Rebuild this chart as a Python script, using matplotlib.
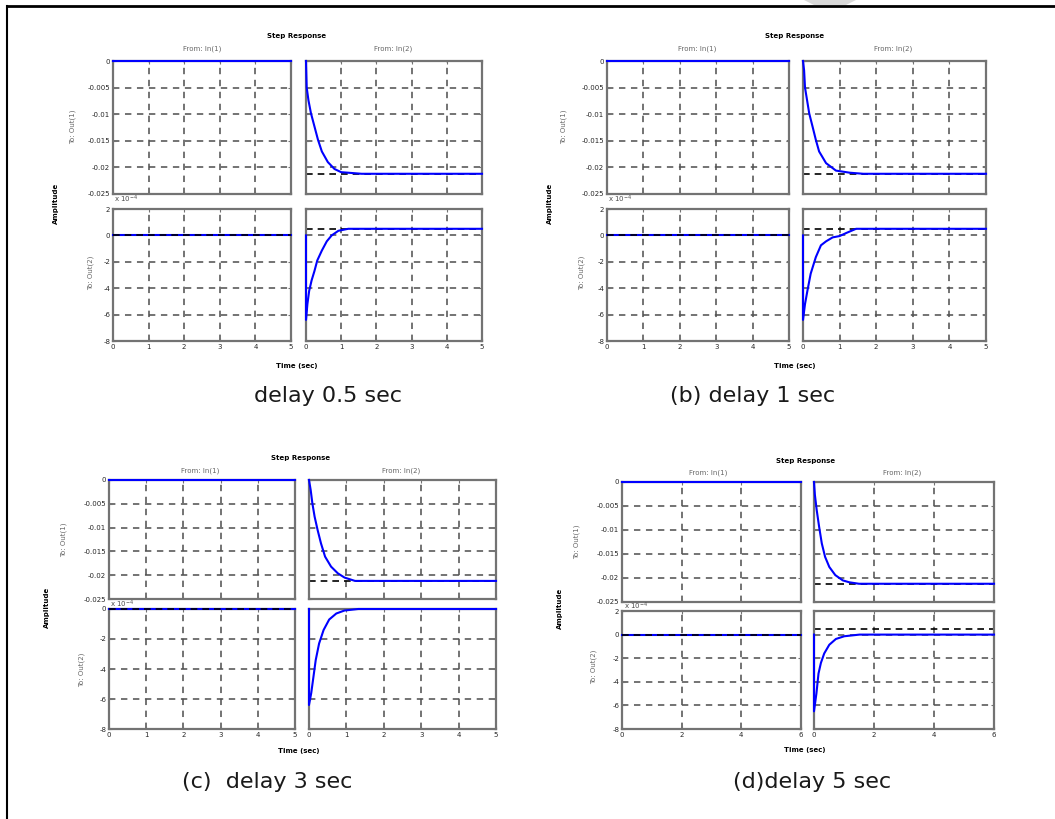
import matplotlib
matplotlib.use("Agg")
import matplotlib.pyplot as plt
from matplotlib.lines import Line2D
from matplotlib.patches import Polygon

W, H = 1055, 819

# ---- values ----
captions = ["delay 0.5 sec", "(b) delay 1 sec", "(c)  delay 3 sec", "(d)delay 5 sec"]

top_yticks = [0, -0.005, -0.01, -0.015, -0.02, -0.025]
top_ylabels = ["0", "-0.005", "-0.01", "-0.015", "-0.02", "-0.025"]
bot_yticks = [2, 0, -2, -4, -6, -8]
bot_yticks_c = [0, -2, -4, -6, -8]

t_a_tr = [0, 0.02, 0.07, 0.14, 0.24, 0.34, 0.45, 0.62, 0.81, 1.0, 1.2, 1.58, 5]
y_a_tr = [0, -0.005, -0.0074, -0.0098, -0.0123, -0.0148, -0.0170, -0.0190, -0.0203, -0.0209, -0.0210, -0.0212, -0.0212]
t_a_br = [0, 0, 0.04, 0.09, 0.16, 0.24, 0.32, 0.45, 0.59, 0.73, 0.92, 1.2, 5]
y_a_br = [0, -6.4, -5.2, -4.2, -3.4, -2.7, -1.9, -1.15, -0.45, 0.0, 0.35, 0.5, 0.5]

t_b_tr = [0, 0.03, 0.055, 0.17, 0.26, 0.35, 0.44, 0.63, 0.9, 1.28, 1.65, 5]
y_b_tr = [0, -0.00175, -0.005, -0.00985, -0.0123, -0.0148, -0.0170, -0.0192, -0.0206, -0.0210, -0.0212, -0.0212]
t_b_br = [0, 0, 0.055, 0.12, 0.21, 0.35, 0.49, 0.63, 0.81, 1.0, 1.18, 1.45, 5]
y_b_br = [0, -6.4, -5.2, -4.2, -2.9, -1.65, -0.75, -0.45, -0.15, -0.05, 0.18, 0.5, 0.5]

t_c_tr = [0, 0.045, 0.09, 0.15, 0.23, 0.32, 0.43, 0.59, 0.77, 0.95, 1.23, 5]
y_c_tr = [0, -0.0021, -0.0049, -0.0077, -0.0105, -0.0133, -0.0161, -0.0182, -0.0196, -0.0205, -0.0212, -0.0212]
t_c_br = [0, 0, 0.06, 0.12, 0.18, 0.27, 0.39, 0.54, 0.73, 0.95, 1.32, 5]
y_c_br = [0, -6.4, -5.6, -4.5, -3.4, -2.3, -1.4, -0.7, -0.3, -0.1, 0, 0]

t_d_tr = [0, 0.03, 0.09, 0.17, 0.26, 0.37, 0.51, 0.71, 0.96, 1.18, 1.5, 6]
y_d_tr = [0, -0.0027, -0.00585, -0.0093, -0.0128, -0.0156, -0.0177, -0.0194, -0.0205, -0.0209, -0.0212, -0.0212]
t_d_br = [0, 0, 0.08, 0.15, 0.23, 0.34, 0.51, 0.73, 1.01, 1.52, 6]
y_d_br = [0, -6.5, -5.0, -3.3, -2.4, -1.6, -0.86, -0.37, -0.14, 0, 0]

steady_tr = -0.0212
steady_br = [0.5, 0.5, 0.0, 0.5]
t_end = [5, 5, 5, 6]
x_ticks = [[0, 1, 2, 3, 4, 5]] * 3 + [[0, 2, 4, 6]]

curves_tr = [(t_a_tr, y_a_tr), (t_b_tr, y_b_tr), (t_c_tr, y_c_tr), (t_d_tr, y_d_tr)]
curves_br = [(t_a_br, y_a_br), (t_b_br, y_b_br), (t_c_br, y_c_br), (t_d_br, y_d_br)]

# ---- layout in pixels: axes boxes (x0, y0, x1, y1) and label spots ----
panels = [
    dict(tl=(113, 61, 291, 194), tr=(306, 61, 482, 194), bl=(113, 209, 291, 341), br=(306, 209, 482, 341),
         title=(297, 36), from1=(202, 49), from2=(393, 49), time=(297, 366), amp=(56, 203),
         out1=(73, 127), out2=(91, 273), cap=(328, 396), off=(114, 199)),
    dict(tl=(607, 61, 789, 194), tr=(803, 61, 986, 194), bl=(607, 209, 789, 341), br=(803, 209, 986, 341),
         title=(795, 36), from1=(697, 49), from2=(893, 49), time=(795, 366), amp=(550, 203),
         out1=(564, 127), out2=(582, 273), cap=(753, 396), off=(608, 199)),
    dict(tl=(109, 480, 295, 599), tr=(309, 480, 496, 599), bl=(109, 609, 295, 729), br=(309, 609, 496, 729),
         title=(301, 458), from1=(200, 471), from2=(401, 471), time=(299, 751), amp=(47, 607),
         out1=(64, 540), out2=(82, 670), cap=(267, 782), off=(110, 604)),
    dict(tl=(622, 482, 801, 602), tr=(814, 482, 994, 602), bl=(622, 611, 801, 729), br=(814, 611, 994, 729),
         title=(806, 461), from1=(708, 473), from2=(902, 473), time=(805, 750), amp=(560, 608),
         out1=(577, 542), out2=(594, 667), cap=(812, 782), off=(624, 606)),
]

BLUE = "#0000ff"
FRAME = "0.45"


def box(r):
    x0, y0, x1, y1 = r
    return [x0 / W, 1 - y1 / H, (x1 - x0) / W, (y1 - y0) / H]


def fxy(p):
    return p[0] / W, 1 - p[1] / H


def make_ax(fig, rect, t, y, steady, tmax, xt, ylim, yt, ylab, show_x, show_y, dash_top):
    ax = fig.add_axes(box(rect))
    ax.set_xlim(0, tmax)
    ax.set_ylim(*ylim)
    ax.set_xticks(xt)
    ax.set_yticks(yt)
    ax.grid(True, color="0.33", linestyle=(0, (4, 3.5)), linewidth=1.15)
    for s in ax.spines.values():
        s.set_color(FRAME)
        s.set_linewidth(1.6)
    ax.tick_params(direction="in", length=2, color=FRAME, labelsize=5, labelcolor="0.15",
                   top=True, right=True, pad=2)
    ax.set_xticklabels([str(v) for v in xt] if show_x else [])
    ax.set_yticklabels(ylab if show_y else [])
    ax.plot([0, tmax], [steady, steady], color="k", linestyle=(0, (4, 3)), linewidth=1.2,
            zorder=4 if dash_top else 2, clip_on=False)
    ax.plot(t, y, color=BLUE, linewidth=1.5, zorder=3, clip_on=False)
    return ax


fig = plt.figure(figsize=(W / 100, H / 100), dpi=100)

for i, p in enumerate(panels):
    tmax = t_end[i]
    ylim_b = (-8, 0) if i == 2 else (-8, 2)
    yt_b = bot_yticks_c if i == 2 else bot_yticks
    yl_b = [str(v) for v in yt_b]
    # top row
    make_ax(fig, p["tl"], [0, tmax], [0, 0], 0, tmax, x_ticks[i], (-0.025, 0),
            top_yticks, top_ylabels, False, True, False)
    make_ax(fig, p["tr"], curves_tr[i][0], curves_tr[i][1], steady_tr, tmax, x_ticks[i],
            (-0.025, 0), top_yticks, top_ylabels, False, False, False)
    # bottom row
    make_ax(fig, p["bl"], [0, tmax], [0, 0], 0, tmax, x_ticks[i], ylim_b,
            yt_b, yl_b, True, True, True)
    make_ax(fig, p["br"], curves_br[i][0], curves_br[i][1], steady_br[i], tmax, x_ticks[i],
            ylim_b, yt_b, yl_b, True, False, False)

    fig.text(*fxy(p["title"]), "Step Response", fontsize=5, fontweight="bold", ha="center", va="center")
    fig.text(*fxy(p["from1"]), "From: In(1)", fontsize=5, color="0.4", ha="center", va="center")
    fig.text(*fxy(p["from2"]), "From: In(2)", fontsize=5, color="0.4", ha="center", va="center")
    fig.text(*fxy(p["time"]), "Time (sec)", fontsize=5, fontweight="bold", ha="center", va="center")
    fig.text(*fxy(p["amp"]), "Amplitude", fontsize=5, fontweight="bold", rotation=90,
             ha="center", va="center")
    fig.text(*fxy(p["out1"]), "To: Out(1)", fontsize=5, color="0.4", rotation=90, ha="center", va="center")
    fig.text(*fxy(p["out2"]), "To: Out(2)", fontsize=5, color="0.4", rotation=90, ha="center", va="center")
    fig.text(*fxy(p["off"]), r"x 10$^{-4}$", fontsize=5, color="0.3", ha="left", va="center")
    fig.text(*fxy(p["cap"]), captions[i], fontsize=16, color="0.1", ha="center", va="center")

# page frame of the scanned document
fig.add_artist(Line2D([7 / W, 1], [1 - 6 / H, 1 - 6 / H], color="k", linewidth=2))
fig.add_artist(Line2D([7 / W, 7 / W], [0, 1 - 6 / H], color="k", linewidth=1.5))
fig.add_artist(Polygon([(804 / W, 1), (856 / W, 1), (846 / W, 1 - 5 / H), (814 / W, 1 - 5 / H)],
                       closed=True, facecolor="0.85", edgecolor="none", transform=fig.transFigure))

fig.savefig("out.png", dpi=100)
